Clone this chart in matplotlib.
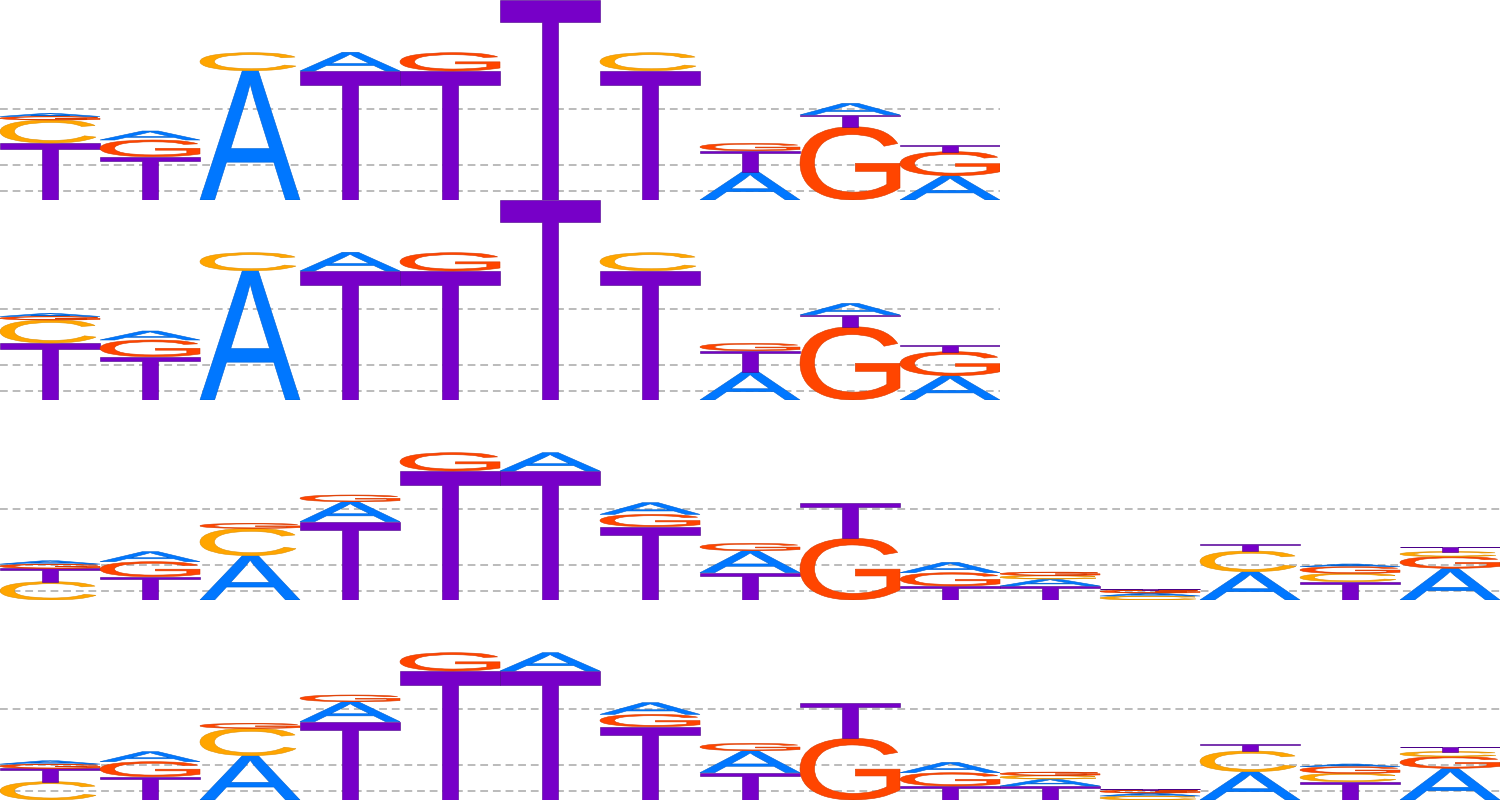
import matplotlib
matplotlib.use("Agg")
import matplotlib.pyplot as plt
from matplotlib.textpath import TextPath
from matplotlib.patches import PathPatch
from matplotlib.font_manager import FontProperties
from matplotlib.transforms import Affine2D

# ---- data (letter heights per position) ----
letters = ["A", "C", "G", "T"]

m1_A = [0.03, 0.09, 1.293, 0.187, 0.0, 0.0, 0.0, 0.283, 0.115, 0.243]
m1_C = [0.23, 0.0, 0.18, 0.0, 0.0, 0.0, 0.18, 0.0, 0.0, 0.0]
m1_G = [0.035, 0.167, 0.0, 0.0, 0.183, 0.0, 0.0, 0.073, 0.733, 0.24]
m1_T = [0.57, 0.433, 0.0, 1.29, 1.29, 2.0, 1.293, 0.21, 0.118, 0.067]

m2_A = [0.033, 0.10, 0.443, 0.20, 0.0, 0.183, 0.117, 0.22, 0.0, 0.103, 0.07, 0.03, 0.283, 0.027, 0.317]
m2_C = [0.183, 0.0, 0.273, 0.0, 0.0, 0.0, 0.0, 0.0, 0.0, 0.0, 0.035, 0.04, 0.207, 0.083, 0.05]
m2_G = [0.043, 0.15, 0.05, 0.067, 0.183, 0.0, 0.123, 0.073, 0.617, 0.133, 0.034, 0.029, 0.0, 0.067, 0.117]
m2_T = [0.133, 0.233, 0.0, 0.783, 1.29, 1.29, 0.733, 0.273, 0.357, 0.14, 0.14, 0.01, 0.07, 0.183, 0.049]

grid_levels = [0.087, 0.355, 0.915]

colors = {"A": "#0077FF", "C": "#FFA500", "G": "#FF4500", "T": "#7700C8"}
edges = {"A": "#0060D0", "C": "#E09000", "G": "#D83A00", "T": "#4A0088"}

fp = FontProperties(family=["Liberation Sans", "DejaVu Sans"])
glyphs = {ch: TextPath((0, 0), ch, size=1, prop=fp) for ch in letters}


def draw_letter(ax, ch, x, y, w, h):
    tp = glyphs[ch]
    bb = tp.get_extents()
    ww = w * (0.96 if ch == "C" else 1.0)
    t = (Affine2D().translate(-bb.x0, -bb.y0)
         .scale(ww / bb.width, h / bb.height).translate(x, y))
    ax.add_patch(PathPatch(t.transform_path(tp), fc=colors[ch],
                           ec=edges[ch], lw=0.4, zorder=2))


def draw_logo(ax, A, C, G, T):
    n = len(A)
    for i in range(n):
        vals = {"A": A[i], "C": C[i], "G": G[i], "T": T[i]}
        order = sorted(letters, key=lambda k: -vals[k])
        y = 0.0
        for ch in order:
            h = vals[ch]
            if h <= 0:
                continue
            draw_letter(ax, ch, i, y, 1.0, h)
            y += h
    for g in grid_levels:
        ax.axhline(g, color="#BBBBBB", lw=1.4, linestyle=(0, (4, 2.5)), zorder=0)
    ax.set_xlim(0, n)
    ax.set_ylim(0, 2.0)
    ax.axis("off")


fig = plt.figure(figsize=(15, 8), dpi=100)
panels = [(m1_A, m1_C, m1_G, m1_T), (m1_A, m1_C, m1_G, m1_T),
          (m2_A, m2_C, m2_G, m2_T), (m2_A, m2_C, m2_G, m2_T)]
for k, (A, C, G, T) in enumerate(panels):
    width = len(A) / 15.0
    ax = fig.add_axes([0, 1 - (k + 1) * 0.25, width, 0.25])
    draw_logo(ax, A, C, G, T)

fig.savefig("out.png", dpi=100)
